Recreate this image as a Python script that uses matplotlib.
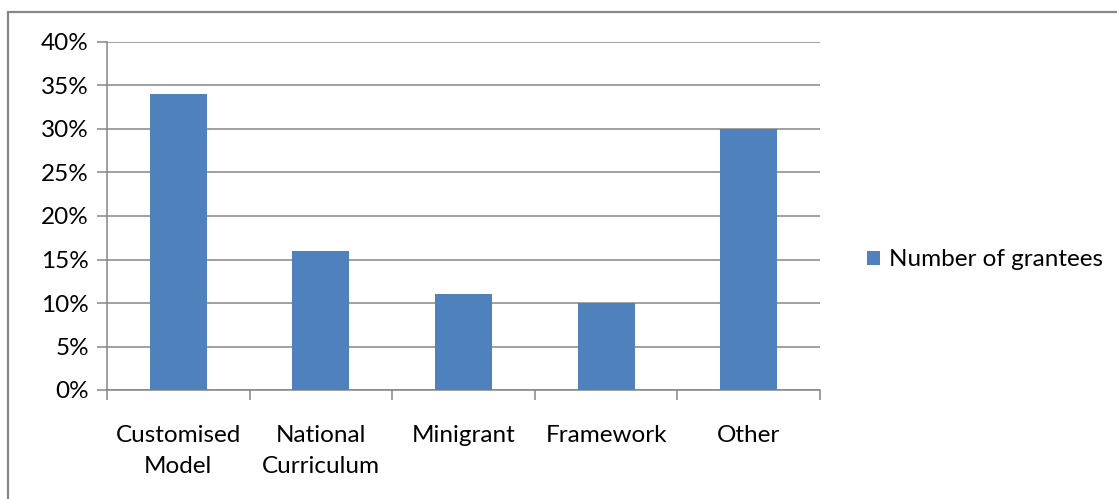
import matplotlib.pyplot as plt
from matplotlib.patches import Rectangle
from matplotlib.ticker import PercentFormatter, FixedLocator
import numpy as np

categories = ["Customised\nModel", "National\nCurriculum", "Minigrant", "Framework", "Other"]
grantees_pct = [34, 16, 11, 10, 30]
series_name = "Number of grantees"

BAR = "#4F81BD"
GRID = "#868686"
FS = 17.5

plt.rcParams['font.family'] = ['Lato', 'DejaVu Sans']

fig = plt.figure(figsize=(11.17, 4.99), dpi=100)
ax = fig.add_axes([107 / 1117, 109 / 499, 713 / 1117, 348 / 499])

x = np.arange(len(categories))
ax.bar(x, grantees_pct, width=0.4, color=BAR, label=series_name, zorder=3)

ax.set_xlim(-0.5, len(categories) - 0.5)
ax.set_ylim(0, 40)
ax.set_yticks(np.arange(0, 41, 5))
ax.yaxis.set_major_formatter(PercentFormatter(decimals=0))
ax.yaxis.grid(True, color=GRID, linewidth=1.1, zorder=0)

# category labels centred, tick marks at the category boundaries
ax.set_xticks(x)
ax.set_xticklabels(categories, linespacing=1.6)
ax.tick_params(axis='x', length=0, pad=25, labelsize=FS)
ax.xaxis.set_minor_locator(FixedLocator(np.arange(-0.5, len(categories), 1)))
ax.tick_params(axis='x', which='minor', length=7, color=GRID, width=1.1)
ax.tick_params(axis='y', length=7, color=GRID, width=1.1, labelsize=FS, pad=6)

for side in ('top', 'right'):
    ax.spines[side].set_visible(False)
for side in ('left', 'bottom'):
    ax.spines[side].set_color(GRID)
    ax.spines[side].set_linewidth(1.1)

fig.legend(loc='center left', bbox_to_anchor=(857 / 1117, 1 - 260 / 499),
           frameon=False, fontsize=FS, handlelength=0.55, handleheight=0.55,
           handletextpad=0.35, borderaxespad=0)

# chart-area border
fig.add_artist(Rectangle((8 / 1117, -0.1), 1.2, 1 - 12 / 499 + 0.1,
                         transform=fig.transFigure, fill=False,
                         edgecolor=GRID, linewidth=1.6))

fig.savefig("out.png", dpi=100)
